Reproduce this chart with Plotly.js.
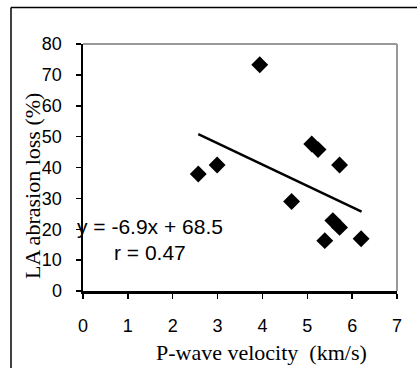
<!DOCTYPE html>
<html>
<head>
<meta charset="utf-8">
<script src="https://cdn.plot.ly/plotly-3.0.1.min.js"></script>
<style>html,body{margin:0;padding:0;background:#fff;}#chart{width:417px;height:368px;}</style>
</head>
<body>
<div id="chart"></div>
<script>
// P-wave velocity (km/s)
const velocity = [2.57, 2.99, 3.94, 4.65, 5.10, 5.24, 5.72, 5.57, 5.72, 5.39, 6.20];
// LA abrasion loss (%)
const abrasionLoss = [37.9, 40.8, 73.3, 29.0, 47.6, 45.8, 40.8, 22.8, 20.6, 16.3, 16.9];
// Trend line end points
const fitX = [2.57, 6.21];
const fitY = [50.8, 25.7];
const xTicks = [0, 1, 2, 3, 4, 5, 6, 7];
const yTicks = [0, 10, 20, 30, 40, 50, 60, 70, 80];
const equationText = 'y = -6.9x + 68.5';
const rText = 'r = 0.47';
const xTitle = 'P-wave velocity  (km/s)';
const yTitle = 'LA abrasion loss (%)';

const tickFont = {family: 'Liberation Sans, Arial, sans-serif', size: 18, color: '#000'};
const titleFont = {family: 'Liberation Serif, Times New Roman, serif', size: 22, color: '#000'};
const annFont = {family: 'Liberation Sans, Arial, sans-serif', size: 21, color: '#000'};

const traces = [
  {x: fitX, y: fitY, mode: 'lines', type: 'scatter', line: {color: '#000', width: 2.5}, hoverinfo: 'skip', showlegend: false},
  {x: velocity, y: abrasionLoss, mode: 'markers', type: 'scatter',
   marker: {symbol: 'diamond', size: 13, color: '#000'}, showlegend: false}
];

const layout = {
  width: 417, height: 368,
  margin: {l: 83, r: 20, t: 44, b: 77, pad: 0},
  paper_bgcolor: '#fff', plot_bgcolor: '#fff',
  showlegend: false,
  xaxis: {
    range: [0, 7], tickvals: xTicks, ticktext: xTicks.map(String),
    showgrid: false, zeroline: false,
    showline: true, linecolor: '#000', linewidth: 2.5,
    ticks: 'outside', ticklen: 5, tickwidth: 1.5, tickcolor: '#000',
    tickfont: tickFont, ticklabelstandoff: 12, fixedrange: true
  },
  yaxis: {
    range: [0, 80], tickvals: yTicks, ticktext: yTicks.map(String),
    showgrid: false, zeroline: false,
    showline: true, linecolor: '#000', linewidth: 2.5,
    ticks: 'outside', ticklen: 5, tickwidth: 1.5, tickcolor: '#000',
    tickfont: tickFont, ticklabelstandoff: 10, fixedrange: true
  },
  shapes: [
    {type: 'line', xref: 'paper', yref: 'paper', x0: 0, x1: 1, y0: 1, y1: 1, line: {color: '#999', width: 2}},
    {type: 'line', xref: 'paper', yref: 'paper', x0: 1, x1: 1, y0: 0, y1: 1, line: {color: '#999', width: 2}},
    {type: 'line', xref: 'paper', yref: 'paper', x0: -0.2293, x1: 1.07, y0: 1.1478, y1: 1.1478, line: {color: '#000', width: 1.5}},
    {type: 'line', xref: 'paper', yref: 'paper', x0: -0.2293, x1: -0.2293, y0: 1.1478, y1: -0.32, line: {color: '#000', width: 1.5}}
  ],
  annotations: [
    {x: 1.5, y: 21, xref: 'x', yref: 'y', text: equationText, showarrow: false,
     xanchor: 'center', yanchor: 'middle', font: annFont},
    {x: 1.5, y: 12.6, xref: 'x', yref: 'y', text: rText, showarrow: false,
     xanchor: 'center', yanchor: 'middle', font: annFont},
    {x: (261 - 83) / 314, y: (291 - 352) / 247, xref: 'paper', yref: 'paper', text: xTitle, showarrow: false,
     xanchor: 'center', yanchor: 'middle', font: titleFont},
    {x: (32 - 83) / 314, y: (291 - 186) / 247, xref: 'paper', yref: 'paper', text: yTitle, showarrow: false,
     xanchor: 'center', yanchor: 'middle', textangle: -90, font: titleFont}
  ]
};

Plotly.newPlot('chart', traces, layout, {displayModeBar: false, staticPlot: true});
</script>
</body>
</html>
